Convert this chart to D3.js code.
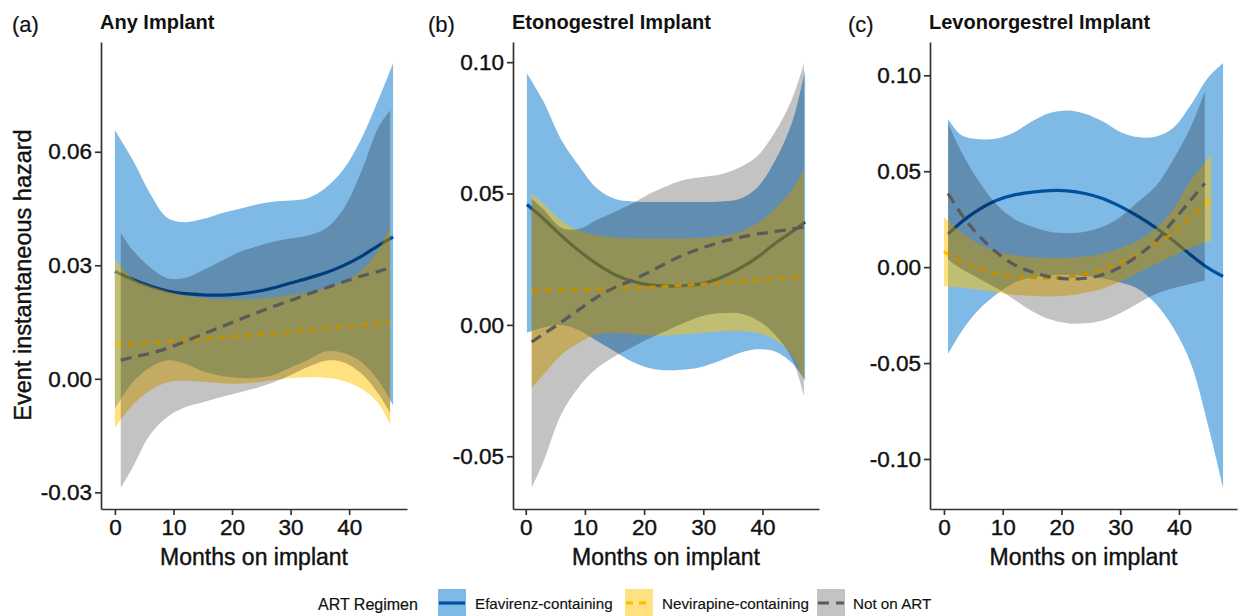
<!DOCTYPE html>
<html>
<head>
<meta charset="utf-8">
<script src="https://cdn.jsdelivr.net/npm/d3@7"></script>
<style>
  body { margin: 0; background: #fff; }
  svg { display: block; font-family: "Liberation Sans", Arial, Helvetica, sans-serif; }
</style>
</head>
<body>
<svg id="chart" width="1258" height="616"></svg>
<script>
// rows are [month, fit, lower, upper]
const anyEfavirenz = [
  [0, 0.0284, -0.0080, 0.0657], [3, 0.0263, -0.0010, 0.0580], [6, 0.0245, 0.0030, 0.0490],
  [9, 0.0232, 0.0049, 0.0425], [12, 0.0225, 0.0040, 0.0414], [15, 0.0222, 0.0020, 0.0422],
  [18, 0.0221, 0.0008, 0.0437], [21, 0.0224, 0.0003, 0.0448], [24, 0.0230, 0.0002, 0.0460],
  [27, 0.0240, 0.0010, 0.0468], [30, 0.0253, 0.0030, 0.0471], [33, 0.0266, 0.0050, 0.0478],
  [36, 0.0280, 0.0072, 0.0505], [39, 0.0299, 0.0068, 0.0553], [42, 0.0323, 0.0045, 0.0632],
  [45, 0.0352, -0.0005, 0.0738], [47.5, 0.0375, -0.0070, 0.0834]
];
const anyNevirapine = [
  [0, 0.0090, -0.0129, 0.0315], [3, 0.0093, -0.0070, 0.0266], [6, 0.0096, -0.0030, 0.0245],
  [9, 0.0099, -0.0009, 0.0231], [12, 0.0102, -0.0005, 0.0220], [15, 0.0106, -0.0008, 0.0213],
  [18, 0.0109, -0.0012, 0.0210], [21, 0.0112, -0.0013, 0.0209], [24, 0.0116, -0.0010, 0.0211],
  [27, 0.0120, -0.0004, 0.0215], [30, 0.0124, 0.0002, 0.0221], [33, 0.0128, 0.0004, 0.0229],
  [36, 0.0133, 0.0003, 0.0240], [39, 0.0137, -0.0005, 0.0256], [42, 0.0142, -0.0025, 0.0285],
  [45, 0.0147, -0.0065, 0.0340], [47, 0.0151, -0.0120, 0.0404]
];
const anyNotOnArt = [
  [1, 0.0049, -0.0288, 0.0386], [3, 0.0057, -0.0235, 0.0341], [6, 0.0067, -0.0148, 0.0295],
  [9, 0.0081, -0.0100, 0.0266], [12, 0.0099, -0.0075, 0.0267], [15, 0.0118, -0.0062, 0.0287],
  [18, 0.0136, -0.0049, 0.0310], [21, 0.0155, -0.0037, 0.0333], [24, 0.0173, -0.0025, 0.0349],
  [27, 0.0191, -0.0010, 0.0362], [30, 0.0207, 0.0010, 0.0371], [33, 0.0224, 0.0032, 0.0379],
  [36, 0.0240, 0.0048, 0.0397], [39, 0.0256, 0.0044, 0.0448], [42, 0.0271, 0.0015, 0.0545],
  [45, 0.0284, -0.0040, 0.0665], [47, 0.0293, -0.0090, 0.0710]
];

const etoEfavirenz = [
  [0.2, 0.0458, -0.0030, 0.0958], [3, 0.0404, -0.0010, 0.0850], [6, 0.0340, 0.0000, 0.0705],
  [9, 0.0282, -0.0020, 0.0605], [12, 0.0232, -0.0060, 0.0520], [15, 0.0192, -0.0100, 0.0480],
  [18, 0.0166, -0.0140, 0.0470], [21, 0.0152, -0.0165, 0.0468], [24, 0.0148, -0.0173, 0.0468],
  [27, 0.0150, -0.0170, 0.0468], [30, 0.0158, -0.0158, 0.0468], [33, 0.0180, -0.0135, 0.0470],
  [36, 0.0213, -0.0108, 0.0478], [39, 0.0255, -0.0093, 0.0520], [42, 0.0308, -0.0100, 0.0620],
  [45, 0.0355, -0.0145, 0.0770], [47.2, 0.0392, -0.0210, 0.0970]
];
const etoNevirapine = [
  [1, 0.0131, -0.0240, 0.0502], [3, 0.0132, -0.0190, 0.0460], [6, 0.0133, -0.0115, 0.0398],
  [9, 0.0134, -0.0068, 0.0358], [12, 0.0136, -0.0036, 0.0340], [15, 0.0138, -0.0030, 0.0332],
  [18, 0.0140, -0.0035, 0.0330], [21, 0.0143, -0.0040, 0.0329], [24, 0.0147, -0.0040, 0.0329],
  [27, 0.0151, -0.0035, 0.0330], [30, 0.0155, -0.0030, 0.0332], [33, 0.0160, -0.0025, 0.0338],
  [36, 0.0165, -0.0023, 0.0352], [39, 0.0170, -0.0030, 0.0385], [42, 0.0176, -0.0055, 0.0440],
  [45, 0.0182, -0.0115, 0.0515], [47, 0.0188, -0.0210, 0.0592]
];
const etoNotOnArt = [
  [1, -0.0065, -0.0620, 0.0480], [3, -0.0035, -0.0520, 0.0440], [6, 0.0010, -0.0340, 0.0370],
  [9, 0.0058, -0.0235, 0.0365], [12, 0.0105, -0.0165, 0.0400], [15, 0.0142, -0.0120, 0.0430],
  [18, 0.0170, -0.0085, 0.0462], [21, 0.0203, -0.0050, 0.0500], [24, 0.0238, -0.0020, 0.0530],
  [27, 0.0270, 0.0010, 0.0553], [30, 0.0294, 0.0035, 0.0563], [33, 0.0316, 0.0045, 0.0573],
  [36, 0.0332, 0.0044, 0.0598], [39, 0.0345, 0.0020, 0.0640], [42, 0.0355, -0.0035, 0.0730],
  [45, 0.0365, -0.0130, 0.0860], [47, 0.0373, -0.0270, 0.0996]
];

const levoEfavirenz = [
  [0.7, 0.0173, -0.0453, 0.0772], [3, 0.0236, -0.0335, 0.0688], [6, 0.0301, -0.0220, 0.0667],
  [9, 0.0349, -0.0140, 0.0670], [12, 0.0377, -0.0080, 0.0703], [15, 0.0391, -0.0052, 0.0760],
  [18, 0.0399, -0.0042, 0.0803], [21, 0.0398, -0.0040, 0.0817], [24, 0.0384, -0.0045, 0.0800],
  [27, 0.0358, -0.0058, 0.0760], [30, 0.0317, -0.0080, 0.0705], [33, 0.0266, -0.0112, 0.0678],
  [36, 0.0207, -0.0190, 0.0680], [39, 0.0139, -0.0315, 0.0725], [42, 0.0064, -0.0500, 0.0845],
  [45, -0.0005, -0.0830, 0.0990], [47.5, -0.0048, -0.1150, 0.1063]
];
const levoNevirapine = [
  [0, 0.0081, -0.0100, 0.0261], [3, 0.0029, -0.0108, 0.0180], [6, -0.0010, -0.0118, 0.0120],
  [9, -0.0034, -0.0132, 0.0082], [12, -0.0048, -0.0145, 0.0062], [15, -0.0054, -0.0151, 0.0052],
  [18, -0.0056, -0.0153, 0.0048], [21, -0.0051, -0.0148, 0.0048], [24, -0.0036, -0.0133, 0.0055],
  [27, -0.0013, -0.0112, 0.0070], [30, 0.0023, -0.0075, 0.0098], [33, 0.0067, -0.0030, 0.0137],
  [36, 0.0117, 0.0015, 0.0200], [39, 0.0180, 0.0060, 0.0300], [42, 0.0258, 0.0102, 0.0450],
  [45.5, 0.0360, 0.0138, 0.0587]
];
const levoNotOnArt = [
  [0.7, 0.0384, 0.0040, 0.0750], [3, 0.0275, -0.0010, 0.0600], [6, 0.0162, -0.0060, 0.0445],
  [9, 0.0076, -0.0110, 0.0325], [12, 0.0012, -0.0170, 0.0250], [15, -0.0025, -0.0230, 0.0210],
  [18, -0.0050, -0.0272, 0.0185], [21, -0.0061, -0.0292, 0.0178], [24, -0.0058, -0.0293, 0.0185],
  [27, -0.0040, -0.0278, 0.0210], [30, 0.0000, -0.0240, 0.0262], [33, 0.0060, -0.0190, 0.0340],
  [36, 0.0135, -0.0140, 0.0420], [39, 0.0240, -0.0110, 0.0560], [42, 0.0350, -0.0088, 0.0730],
  [44.4, 0.0437, -0.0070, 0.0915]
];

const panelLetters = ['(a)', '(b)', '(c)'];
const panelTitles = ['Any Implant', 'Etonogestrel Implant', 'Levonorgestrel Implant'];
const groupNames = ['Efavirenz-containing', 'Nevirapine-containing', 'Not on ART'];
const xTicks = [0, 10, 20, 30, 40, 50];
const yTicksA = [-0.03, 0, 0.03, 0.06];
const yTicksB = [-0.05, 0, 0.05, 0.10];
const yTicksC = [-0.10, -0.05, 0, 0.05, 0.10];

// styles for the three regimens (grey band multiplies, like the print)
const groupStyle = [
  { fill: '#0073cd', fillOpacity: 0.5, blend: 'normal', line: '#0050a0', dash: null },
  { fill: '#ffc300', fillOpacity: 0.5, blend: 'normal', line: '#ffbb00', dash: '7 6' },
  { fill: '#c3c3c3', fillOpacity: 1, blend: 'multiply', line: '#5a5a5a', dash: '11 7' }
];

const panels = [
  { series: [anyEfavirenz, anyNevirapine, anyNotOnArt], yTicks: yTicksA, left: 101, right: 407, letterX: 12 },
  { series: [etoEfavirenz, etoNevirapine, etoNotOnArt], yTicks: yTicksB, left: 513, right: 819, letterX: 428 },
  { series: [levoEfavirenz, levoNevirapine, levoNotOnArt], yTicks: yTicksC, left: 930, right: 1237, letterX: 848 }
];

const plotTop = 42, plotBottom = 509;
const inkColor = '#111';
const svg = d3.select('#chart');

// ggplot style 5% expansion
function expand(ext) {
  const pad = (ext[1] - ext[0]) * 0.05;
  return [ext[0] - pad, ext[1] + pad];
}

// slightly heavier text, the print is a little thick
function ink(sel, size, extra) {
  return sel.style('font-size', size + 'px')
    .attr('fill', inkColor)
    .attr('stroke', inkColor)
    .attr('stroke-width', extra == null ? 0.4 : extra);
}

panels.forEach((p, i) => {
  const all = p.series.flat();
  const x = d3.scaleLinear()
    .domain(expand(d3.extent(all, d => d[0])))
    .range([p.left, p.right]);
  const y = d3.scaleLinear()
    .domain(expand([d3.min(all, d => d[2]), d3.max(all, d => d[3])]))
    .range([plotBottom, plotTop]);

  const g = svg.append('g').style('isolation', 'isolate');

  const area = d3.area()
    .x(d => x(d[0]))
    .y0(d => y(d[2]))
    .y1(d => y(d[3]))
    .curve(d3.curveCatmullRom.alpha(0.5));
  const line = d3.line()
    .x(d => x(d[0]))
    .y(d => y(d[1]))
    .curve(d3.curveCatmullRom.alpha(0.5));

  // ribbon then line, group by group
  p.series.forEach((s, k) => {
    const st = groupStyle[k];
    g.append('path')
      .attr('d', area(s))
      .attr('fill', st.fill)
      .attr('fill-opacity', st.fillOpacity)
      .style('mix-blend-mode', st.blend);
    g.append('path')
      .attr('d', line(s))
      .attr('fill', 'none')
      .attr('stroke', st.line)
      .attr('stroke-width', 3.2)
      .attr('stroke-dasharray', st.dash);
  });

  // axes
  const yAxis = d3.axisLeft(y)
    .tickValues(p.yTicks)
    .tickSize(6).tickSizeOuter(0).tickPadding(3)
    .tickFormat(d => d.toFixed(2));
  const xAxis = d3.axisBottom(x)
    .tickValues(xTicks.filter(t => t <= x.domain()[1]))
    .tickSize(6).tickSizeOuter(0).tickPadding(4)
    .tickFormat(d3.format('d'));

  const ya = svg.append('g').attr('transform', `translate(${p.left},0)`).call(yAxis);
  const xa = svg.append('g').attr('transform', `translate(0,${plotBottom})`).call(xAxis);
  [ya, xa].forEach(a => {
    a.select('.domain').attr('stroke', '#333').attr('stroke-width', 1.7);
    a.selectAll('.tick line').attr('stroke', '#333').attr('stroke-width', 1.7);
    ink(a.selectAll('.tick text'), 22.5)
      .style('font-family', '"Liberation Sans", Arial, sans-serif');
  });

  // titles
  ink(svg.append('text').attr('x', p.letterX).attr('y', 32), 22, 0.2)
    .text(panelLetters[i]);
  ink(svg.append('text').attr('x', p.left - 1).attr('y', 29), 20, 0)
    .style('font-weight', 'bold')
    .text(panelTitles[i]);
  ink(svg.append('text')
    .attr('x', (p.left + p.right) / 2).attr('y', 565)
    .attr('text-anchor', 'middle'), 23)
    .text('Months on implant');
});

ink(svg.append('text')
  .attr('transform', 'translate(31,275) rotate(-90)')
  .attr('text-anchor', 'middle'), 23.5)
  .text('Event instantaneous hazard');

// legend
const legendKeyX = [438, 625, 817];
const legendLabelX = [475, 662, 853];
const legend = svg.append('g');
ink(legend.append('text').attr('x', 318).attr('y', 610), 16, 0.2)
  .text('ART Regimen');
groupNames.forEach((name, k) => {
  const st = groupStyle[k];
  const kx = legendKeyX[k];
  legend.append('rect')
    .attr('x', kx).attr('y', 589)
    .attr('width', 28).attr('height', 28)
    .attr('fill', st.fill)
    .attr('fill-opacity', st.fillOpacity);
  legend.append('line')
    .attr('x1', kx + 1).attr('x2', kx + 27)
    .attr('y1', 603).attr('y2', 603)
    .attr('stroke', st.line)
    .attr('stroke-width', 3.2)
    .attr('stroke-dasharray', st.dash);
  ink(legend.append('text').attr('x', legendLabelX[k]).attr('y', 609), 15.2, 0.15)
    .text(name);
});
</script>
</body>
</html>
